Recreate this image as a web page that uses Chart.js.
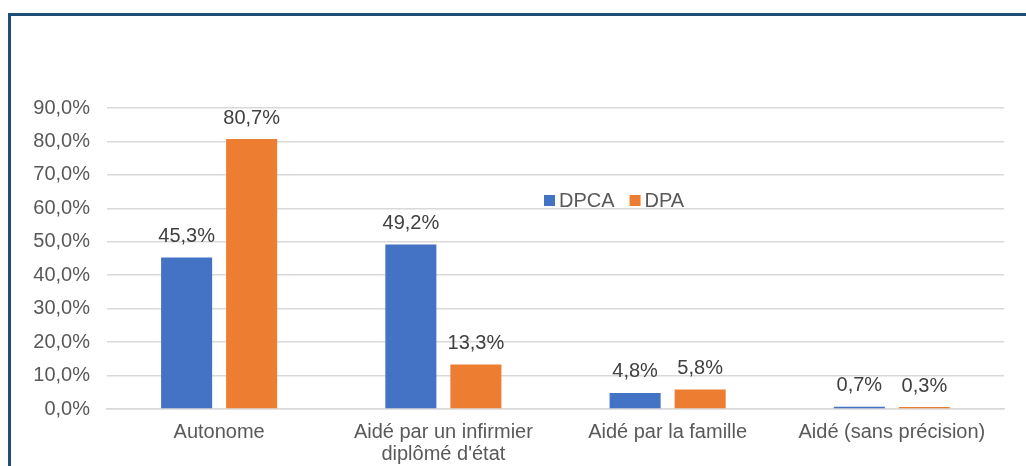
<!DOCTYPE html>
<html>
<head>
<meta charset="utf-8">
<script src="https://cdn.jsdelivr.net/npm/chart.js@4.4.0/dist/chart.umd.min.js"></script>
<style>
  html, body { margin: 0; padding: 0; background: #fff; overflow: hidden; }
  #cadre { position: absolute; left: 8px; top: 13px; width: 1040px; height: 480px; border: 3px solid #1f4e79; box-sizing: border-box; }
  #graf { position: absolute; left: 0; top: 0; }
</style>
</head>
<body>
<div id="cadre"></div>
<canvas id="graf" width="1026" height="466"></canvas>
<script>
const categories = ['Autonome', ['Aidé par un infirmier', "diplômé d'état"], 'Aidé par la famille', 'Aidé (sans précision)'];
const seriesNames = ['DPCA', 'DPA'];
const dpca = [45.3, 49.2, 4.8, 0.7];
const dpa = [80.7, 13.3, 5.8, 0.3];
const yTicks = [0, 10, 20, 30, 40, 50, 60, 70, 80, 90];

const couleurs = ['#4472c4', '#ed7d31'];
const police = 'Liberation Sans, Arial, sans-serif';

function fmt(v) {
  return v.toFixed(1).replace('.', ',') + '%';
}

// étiquettes au-dessus des barres + légende dans la zone du graphique
const etiquettes = {
  id: 'etiquettes',
  afterDatasetsDraw(chart) {
    const ctx = chart.ctx;
    ctx.save();
    ctx.font = '20px ' + police;
    ctx.fillStyle = '#404040';
    ctx.textAlign = 'center';
    ctx.textBaseline = 'middle';
    chart.data.datasets.forEach((ds, i) => {
      chart.getDatasetMeta(i).data.forEach((bar, j) => {
        ctx.fillText(fmt(ds.data[j]), bar.x, bar.y - 21);
      });
    });

    // légende
    let x = 544;
    const y = 201;
    ctx.textAlign = 'left';
    chart.data.datasets.forEach((ds) => {
      ctx.fillStyle = ds.backgroundColor;
      ctx.fillRect(x, y - 6, 11, 11);
      ctx.fillStyle = '#595959';
      ctx.fillText(ds.label, x + 15, y);
      x += 15 + ctx.measureText(ds.label).width + 15;
    });
    ctx.restore();
  }
};

const ctx = document.getElementById('graf').getContext('2d');
new Chart(ctx, {
  type: 'bar',
  data: {
    labels: categories,
    datasets: [
      { label: seriesNames[0], data: dpca, backgroundColor: couleurs[0] },
      { label: seriesNames[1], data: dpa, backgroundColor: couleurs[1] }
    ]
  },
  options: {
    responsive: false,
    animation: false,
    layout: { padding: { top: 108, right: 22, left: 0, bottom: 0 } },
    datasets: { bar: { categoryPercentage: 0.58, barPercentage: 0.785, minBarLength: 2 } },
    plugins: {
      legend: { display: false },
      tooltip: { enabled: false }
    },
    scales: {
      x: {
        grid: { display: false, drawTicks: false },
        border: { color: '#d9d9d9', width: 1.5 },
        ticks: { color: '#595959', font: { family: police, size: 20, lineHeight: 1.08 }, padding: 13, maxRotation: 0, autoSkip: false },
        afterFit(scale) { scale.height = 57; }
      },
      y: {
        min: 0,
        max: 90,
        afterBuildTicks(scale) { scale.ticks = yTicks.map(v => ({ value: v })); },
        grid: { color: '#d9d9d9', lineWidth: 1.5, drawTicks: false },
        border: { display: false },
        ticks: { color: '#595959', font: { family: police, size: 20 }, padding: 17, callback: v => fmt(v) },
        afterFit(scale) { scale.width = 107; }
      }
    }
  },
  plugins: [etiquettes]
});
</script>
</body>
</html>
